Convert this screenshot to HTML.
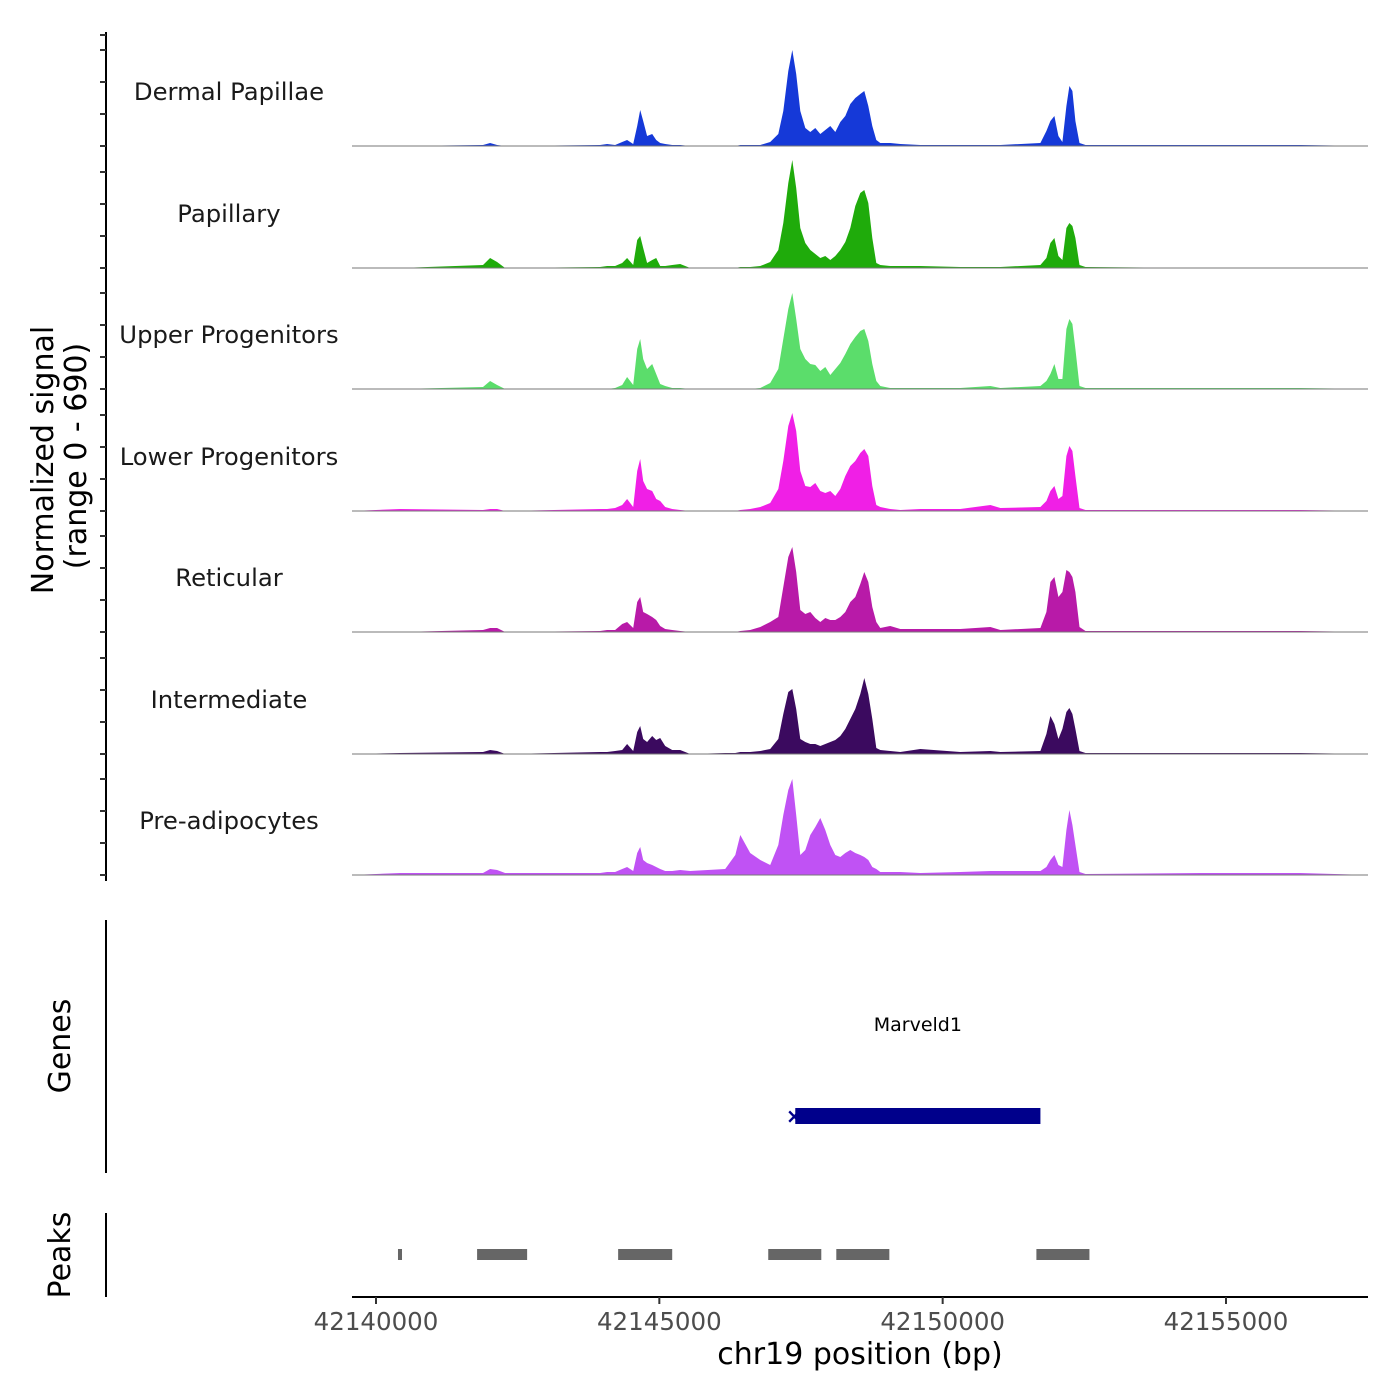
<!DOCTYPE html>
<html><head><meta charset="utf-8"><style>
html,body{margin:0;padding:0;background:#fff;}
svg{display:block;font-family:"DejaVu Sans","Liberation Sans",sans-serif;}
</style></head><body>
<svg id="chart" width="1400" height="1400" viewBox="0 0 1400 1400">
<g id="tracks"></g>
<g id="yaxis"></g>
<text x="53" y="460" transform="rotate(-90 53 460)" text-anchor="middle" font-size="30" fill="#000">Normalized signal</text>
<text x="86" y="456" transform="rotate(-90 86 456)" text-anchor="middle" font-size="30" fill="#000">(range 0 - 690)</text>
<line x1="106" y1="920" x2="106" y2="1173" stroke="#000" stroke-width="2"/>
<text x="70" y="1046" transform="rotate(-90 70 1046)" text-anchor="middle" font-size="30">Genes</text>
<line x1="106" y1="1213" x2="106" y2="1297" stroke="#000" stroke-width="2"/>
<text x="70" y="1255" transform="rotate(-90 70 1255)" text-anchor="middle" font-size="30">Peaks</text>
<g id="genes"></g>
<g id="peaks"></g>
<g id="xaxis"></g>
<text x="860" y="1364" text-anchor="middle" font-size="30">chr19 position (bp)</text>
</svg>
<script>
const positions=[42139576,42140424,42141889,42142013,42142137,42142278,42143955,42144079,42144220,42144344,42144432,42144538,42144609,42144662,42144715,42144785,42144874,42144944,42145015,42145103,42145227,42145368,42145545,42146163,42146340,42146428,42146604,42146781,42146957,42147099,42147187,42147275,42147346,42147416,42147487,42147575,42147664,42147752,42147840,42147928,42148017,42148105,42148193,42148282,42148370,42148458,42148546,42148617,42148688,42148758,42148829,42148900,42149076,42149253,42149606,42150312,42150842,42151019,42151725,42151831,42151901,42151972,42152043,42152113,42152184,42152237,42152290,42152343,42152414,42152520,42154550,42156316,42157517];
const trackNames=["Dermal Papillae","Papillary","Upper Progenitors","Lower Progenitors","Reticular","Intermediate","Pre-adipocytes"];
const trackColors=["#1539d8","#1fab0b","#5bdd6b","#f01fe6","#b81aa8","#3b0a5f","#c052f4"];
const dermal=[0,0,6,18,6,0,6,12,6,24,36,12,120,216,150,60,72,36,18,12,6,6,0,0,0,6,6,6,24,72,210,450,576,432,210,108,84,108,72,96,120,84,144,180,252,288,312,330,240,120,36,18,18,12,6,6,6,6,18,90,150,180,60,24,240,360,330,150,18,6,6,6,0];
const papillary=[0,0,18,60,36,0,6,12,12,30,60,18,168,192,120,30,48,60,12,12,18,24,0,0,0,6,6,12,36,108,270,510,648,480,240,150,108,84,60,72,48,72,108,156,240,372,450,468,390,180,30,18,12,12,12,6,6,6,18,60,150,180,72,48,240,270,252,180,18,6,0,0,0];
const upper=[0,0,12,48,24,0,0,0,6,24,72,24,240,300,180,120,150,90,30,18,6,6,0,0,0,0,0,6,36,120,300,480,576,420,240,180,150,144,108,132,84,120,156,210,270,312,348,360,288,150,48,18,6,6,6,6,18,6,18,48,90,150,60,60,360,420,390,240,18,6,6,6,0];
const lower=[0,12,6,12,12,0,12,12,18,36,72,24,240,312,180,132,120,72,60,24,12,6,0,0,0,6,12,24,48,132,300,510,588,480,240,150,144,168,120,108,120,90,132,210,270,300,348,372,330,150,36,24,12,6,12,12,36,18,24,60,120,150,72,90,330,390,360,210,18,6,6,6,0];
const reticular=[0,0,12,24,24,0,6,12,12,48,60,24,180,210,120,108,90,72,36,18,12,6,0,0,0,6,12,30,60,90,270,450,510,360,132,108,120,84,60,84,72,72,90,120,180,210,288,360,300,150,60,24,36,18,18,18,30,12,24,120,300,330,210,240,372,360,330,240,30,6,6,6,0];
const intermediate=[0,6,12,24,18,0,12,12,18,24,60,18,132,168,90,72,108,84,96,48,24,24,0,6,6,12,12,18,30,90,240,372,390,270,90,72,60,60,48,60,72,84,108,150,210,270,360,456,360,210,36,24,18,12,30,12,18,12,18,120,228,180,90,150,252,276,240,150,18,6,6,6,0];
const preadipocytes=[0,12,12,36,30,12,12,18,18,36,48,24,132,168,90,72,60,48,36,24,24,30,24,36,120,240,132,90,60,180,360,510,576,360,120,150,240,288,342,270,180,120,108,132,150,132,120,108,90,48,36,18,18,18,12,18,24,24,24,48,90,120,60,48,270,390,300,180,18,6,12,12,0];
const xTicks=[42140000,42145000,42150000,42155000];
const geneStart=42147399, geneEnd=42151725, geneName="Marveld1";
const peakStarts=[42140388,42141784,42144273,42146922,42148123,42151654];
const peakEnds=[42140459,42142667,42145227,42147858,42149059,42152590];
const yMax=690;

const NS="http://www.w3.org/2000/svg";
const X0=352,X1=1368;
function xs(bp){return 376+(bp-42140000)*(1226-376)/15000;}
const baselines=[146,268,389,511,632,754,875];
const trackH=115;
function ys(v,i){return baselines[i]-v/yMax*trackH;}
function mk(tag,attrs,parent){const e=document.createElementNS(NS,tag);for(const k in attrs)e.setAttribute(k,attrs[k]);parent.appendChild(e);return e;}
const series=[dermal,papillary,upper,lower,reticular,intermediate,preadipocytes];
const tg=document.getElementById('tracks');
series.forEach((vals,i)=>{
  let d=`M${xs(positions[0]).toFixed(1)},${baselines[i]}`;
  vals.forEach((v,j)=>{d+=` L${xs(positions[j]).toFixed(1)},${ys(v,i).toFixed(1)}`;});
  d+=` L${xs(positions[positions.length-1]).toFixed(1)},${baselines[i]} Z`;
  const p=mk('path',{d:d,fill:trackColors[i]},tg);
  
  
  const l=mk('line',{x1:X0,x2:X1,y1:baselines[i],y2:baselines[i],stroke:'#777','stroke-width':1},tg);
  
  
  const t=mk('text',{x:229,y:baselines[i]-46,'text-anchor':'middle','font-size':24.3,fill:'#1a1a1a'},tg);
  t.textContent=trackNames[i];
  
  
});
const ya=document.getElementById('yaxis');
const al=mk('line',{x1:106,x2:106,y1:32,y2:881,stroke:'#000','stroke-width':2},ya);


[35].concat(...baselines.map(b=>[b,b-32,b-64,b-96])).forEach(y=>{
  const t=mk('line',{x1:100,x2:106,y1:y,y2:y,stroke:'#333','stroke-width':2},ya);
  
  
});
const gg=document.getElementById('genes');
const gl=mk('text',{x:(xs(geneStart)+xs(geneEnd))/2,y:1031,'text-anchor':'middle','font-size':19,fill:'#000'},gg);
gl.textContent=geneName;


const gb=mk('rect',{x:xs(geneStart),y:1108,width:xs(geneEnd)-xs(geneStart),height:16,fill:'#00008b'},gg);


const ga=mk('text',{x:xs(geneStart)-1,y:1123,'text-anchor':'middle','font-size':20,'font-weight':'bold',fill:'#00008b'},gg);
ga.textContent='×';


const pg=document.getElementById('peaks');
peakStarts.forEach((s,i)=>{
  const r=mk('rect',{x:xs(s),y:1249,width:Math.max(3,xs(peakEnds[i])-xs(s)),height:11,fill:'#666'},pg);
  
  
});
const xa=document.getElementById('xaxis');
const xl=mk('line',{x1:X0,x2:X1,y1:1297,y2:1297,stroke:'#000','stroke-width':2},xa);


xTicks.forEach(v=>{
  const t=mk('line',{x1:xs(v),x2:xs(v),y1:1297,y2:1304,stroke:'#333','stroke-width':2},xa);
  
  
  const lb=mk('text',{x:xs(v),y:1330,'text-anchor':'middle','font-size':24.5,fill:'#4d4d4d'},xa);
  lb.textContent=v;
  
  
});
</script>
</body></html>
